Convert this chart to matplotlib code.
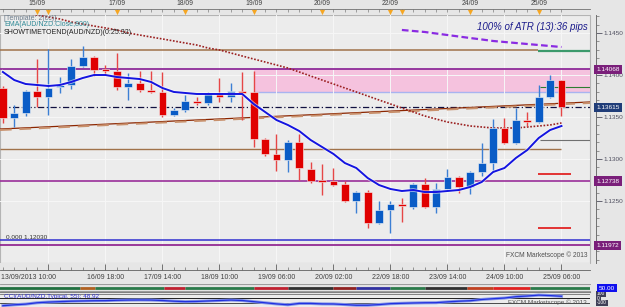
import numpy as np
import matplotlib
matplotlib.use("Agg")
import matplotlib.pyplot as plt
import matplotlib.transforms as mtransforms
from matplotlib.ticker import MultipleLocator

plt.rcParams['font.family'] = ['Liberation Sans', 'DejaVu Sans']

#_______ velas de 4 horas AUD/NZD, 13/09 al 25/09/2013 _______
apertura = [1.13845, 1.13488, 1.13548, 1.13810, 1.13738, 1.13857, 1.13881, 1.14107, 1.14214, 1.14071,
            1.14048, 1.13857, 1.13905, 1.13821, 1.13798, 1.13524, 1.13583, 1.13690, 1.13667, 1.13786,
            1.13738, 1.13810, 1.13798, 1.13238, 1.13060, 1.12988, 1.13202, 1.12881, 1.12750, 1.12738,
            1.12702, 1.12500, 1.12607, 1.12238, 1.12393, 1.12464, 1.12429, 1.12702, 1.12429, 1.12643,
            1.12786, 1.12667, 1.12845, 1.12952, 1.13369, 1.13190, 1.13464, 1.13440, 1.13738, 1.13940]
maximo = [1.13869, 1.13643, 1.13821, 1.14190, 1.14310, 1.13976, 1.14190, 1.14345, 1.14226, 1.14119,
          1.14262, 1.14024, 1.14048, 1.14048, 1.14036, 1.13607, 1.13762, 1.13738, 1.13798, 1.13964,
          1.13905, 1.14036, 1.14048, 1.13250, 1.13298, 1.13226, 1.13298, 1.12964, 1.12940, 1.12893,
          1.12738, 1.12619, 1.12631, 1.12500, 1.12500, 1.12536, 1.12714, 1.12774, 1.12714, 1.12881,
          1.12798, 1.12857, 1.13190, 1.13476, 1.13488, 1.13607, 1.13560, 1.13881, 1.14000, 1.13940]
minimo = [1.13429, 1.13381, 1.13512, 1.13619, 1.13524, 1.13786, 1.13833, 1.14095, 1.13988, 1.14000,
          1.13821, 1.13702, 1.13798, 1.13786, 1.13500, 1.13512, 1.13560, 1.13643, 1.13643, 1.13679,
          1.13679, 1.13464, 1.13143, 1.13036, 1.12857, 1.12845, 1.12750, 1.12714, 1.12571, 1.12679,
          1.12488, 1.12357, 1.12179, 1.12226, 1.12119, 1.12250, 1.12405, 1.12417, 1.12357, 1.12631,
          1.12595, 1.12583, 1.12798, 1.12845, 1.13179, 1.13179, 1.13393, 1.13429, 1.13726, 1.13512]
cierre = [1.13488, 1.13548, 1.13810, 1.13738, 1.13845, 1.13881, 1.14107, 1.14214, 1.14060, 1.14048,
          1.13857, 1.13905, 1.13821, 1.13798, 1.13524, 1.13583, 1.13690, 1.13667, 1.13786, 1.13738,
          1.13810, 1.13786, 1.13238, 1.13060, 1.12988, 1.13202, 1.12893, 1.12738, 1.12726, 1.12690,
          1.12500, 1.12607, 1.12238, 1.12393, 1.12464, 1.12440, 1.12702, 1.12429, 1.12643, 1.12786,
          1.12667, 1.12845, 1.12952, 1.13369, 1.13190, 1.13464, 1.13440, 1.13738, 1.13940, 1.13615]

# medias moviles
ema_azul = [1.14036, 1.13940, 1.13893, 1.13881, 1.13869, 1.13881, 1.13917, 1.13964, 1.14000, 1.14000,
            1.13976, 1.13964, 1.13952, 1.13917, 1.13845, 1.13798, 1.13786, 1.13774, 1.13774, 1.13774,
            1.13774, 1.13774, 1.13655, 1.13560, 1.13464, 1.13405, 1.13333, 1.13226, 1.13143, 1.13060,
            1.12952, 1.12893, 1.12774, 1.12690, 1.12643, 1.12619, 1.12631, 1.12607, 1.12607, 1.12619,
            1.12631, 1.12667, 1.12726, 1.12845, 1.12893, 1.13012, 1.13107, 1.13250, 1.13345, 1.13393]
ema_800 = [1.14798, 1.14774, 1.14738, 1.14714, 1.14690, 1.14667, 1.14631, 1.14607, 1.14583, 1.14560,
           1.14536, 1.14500, 1.14476, 1.14452, 1.14429, 1.14405, 1.14381, 1.14357, 1.14321, 1.14298,
           1.14262, 1.14226, 1.14190, 1.14155, 1.14119, 1.14083, 1.14036, 1.13988, 1.13940, 1.13893,
           1.13845, 1.13798, 1.13750, 1.13702, 1.13655, 1.13607, 1.13560, 1.13512, 1.13476, 1.13440,
           1.13417, 1.13393, 1.13381, 1.13369, 1.13369, 1.13369, 1.13381, 1.13393, 1.13405, 1.13429]
ema_morada_desde = 35
ema_morada = [1.14536, 1.14524, 1.14512, 1.14494, 1.14476, 1.14458, 1.14440, 1.14423,
              1.14405, 1.14393, 1.14381, 1.14369, 1.14357, 1.14345, 1.14333]

cci = [-160, -140, -125, -95, -80, -70, -60, -55, -50, -48,
       -40, -35, -33, -35, -45, -60, -70, -65, -55, -45,
       -35, -45, -70, -95, -120, -140, -110, -110, -120, -122,
       -135, -150, -150, -135, -115, -107, -100, -95, -93, -75,
       -60, -50, -22, -5, 10, 40, 55, 75, 65, 49]

# niveles horizontales
nivel_marron = 1.14298
nivel_verde = 1.14286
zona_sup = 1.14068
zona_inf = 1.13798
zona_desde = 22
nivel_verde2 = 1.13857
nivel_actual = 1.13615
tendencia_x = [-0.25, 51.5]
tendencia_y = [1.13357, 1.13679]
nivel_gris = 1.13226
nivel_marron2 = 1.13119
nivel_rojo = [1.12821, 1.12179]
nivel_morado = 1.12738
nivel_azul = 1.12030
nivel_morado2 = 1.11972

etiquetas = [1.14068, 1.13615, 1.12738, 1.11972]
etiquetas_col = ['#7a1f7a', '#1f3c78', '#7a1f7a', '#7a1f7a']

dias_idx = [3, 4, 10, 16, 22, 28, 34, 35, 41, 47]
dias_txt = ['15/09', '', '17/09', '18/09', '19/09', '20/09', '22/09', '', '24/09', '25/09']
fechas_idx = [9, 14, 19, 24, 29, 34, 39, 44, 49]
fechas_txt = ['16/09 18:00', '17/09 14:00', '18/09 10:00', '19/09 06:00', '20/09 02:00',
              '22/09 18:00', '23/09 14:00', '24/09 10:00', '25/09 06:00']

# tira de tendencia (inicio, fin, color)
tira_ini = [-0.5, 6.8, 8.1, 14.1, 16, 22, 25, 29, 31, 34, 37, 40.7, 43, 46.2]
tira_fin = [6.8, 8.1, 14.1, 16, 22, 25, 29, 31, 34, 37, 40.7, 43, 46.2, 51.5]
tira_col = ['#1f6f3f', '#b06020', '#2a7a4a', '#c02030', '#2a7a4a', '#c02030', '#303030',
            '#902020', '#3030a0', '#2a7a4a', '#303030', '#c04020', '#e02020', '#2a7a4a']

W, H = 625, 307
FONDO = '#e6e6e6'

def caja(x0, y0, x1, y1):
    return [x0 / W, 1 - y1 / H, (x1 - x0) / W, (y1 - y0) / H]

fig = plt.figure(figsize=(6.25, 3.07), dpi=100, facecolor=FONDO)
xlim = (-0.25, 51.5)

#_________________ grafico principal _________________
ax = fig.add_axes(caja(0, 15, 590, 263))
ax.set_facecolor('#ececec')
ax.set_xlim(xlim)
ax.set_ylim(1.117619, 1.147143)
ax.patch.set_edgecolor('#b4b4b4')
ax.patch.set_linewidth(0.8)
for s in ['top', 'bottom', 'left']:
    ax.spines[s].set_visible(False)
ax.spines['right'].set_position(('outward', 4))
ax.spines['right'].set_color('#707070')
ax.spines['right'].set_linewidth(0.7)

ax.yaxis.tick_right()
ax.set_yticks([1.1250, 1.1300, 1.1350, 1.1400, 1.1450])
ax.set_yticklabels(['%.4f' % v for v in [1.1250, 1.1300, 1.1350, 1.1400, 1.1450]])
ax.yaxis.set_minor_locator(MultipleLocator(0.001))
ax.tick_params(axis='y', which='major', length=4, width=0.6, labelsize=4.6, colors='#505060', pad=2)
ax.tick_params(axis='y', which='minor', length=2, width=0.5, colors='#707070')
ax.set_xticks(range(4, 50, 5))
ax.tick_params(axis='x', length=0, labelbottom=False)
ax.grid(True, which='major', color='#f7f7f7', lw=0.7, zorder=0)

x = np.arange(len(apertura))
o = np.array(apertura)
c = np.array(cierre)
sube = c >= o

# zona rosa y niveles
ax.fill_between([zona_desde, xlim[1]], zona_inf, zona_sup, color='#f5c2de', lw=0, zorder=1)
ax.hlines(zona_inf, zona_desde, xlim[1], color='#a8b4f0', lw=1, zorder=1.5)
ax.axhline(zona_sup, color='#8e2c9a', lw=1.3, zorder=2)
ax.hlines(nivel_marron, xlim[0], 46.9, color='#a0724a', lw=1.1, zorder=2)
ax.hlines(nivel_verde, 46.9, xlim[1], color='#3c9a6c', lw=1.6, zorder=2)
ax.hlines(nivel_verde2, 47.1, xlim[1], color='#2e7d32', lw=0.8, zorder=2)
ax.axhline(nivel_actual, color='#101040', lw=0.9, ls=(0, (5, 2, 1, 2)), zorder=2)
ax.plot(tendencia_x, tendencia_y, color='#8b2500', lw=0.9, zorder=2)
ax.plot(tendencia_x, np.array(tendencia_y) - 0.00012, color='#c8906c', lw=1.4,
        ls=(0, (6, 4)), zorder=2)
ax.hlines(nivel_gris, 47.1, xlim[1], color='#707070', lw=0.8, zorder=2)
ax.hlines(nivel_marron2, xlim[0], 49, color='#a0724a', lw=1, zorder=2)
ax.hlines(nivel_rojo, 46.9, 49.8, color='#e00000', lw=1.1, zorder=2)
ax.axhline(nivel_morado, color='#9a2f9a', lw=1.2, zorder=2)
ax.axhline(nivel_azul, color='#3030d0', lw=1.1, zorder=2)
ax.axhline(nivel_morado2, color='#8b1a8b', lw=1.2, zorder=2)
ax.text(0.3, nivel_azul + 0.0001, '0.000 1.12030', fontsize=4.6, color='#303030', va='bottom', zorder=6)

# medias
ax.plot(x, ema_800, color='#9b2020', lw=1.2, ls=(0, (1, 1)), zorder=3)
ax.plot(np.arange(ema_morada_desde, ema_morada_desde + len(ema_morada)), ema_morada,
        color='#8a2be2', lw=1.6, ls=(0, (3, 1.5)), zorder=3)
ax.plot(x, ema_azul, color='white', lw=2.6, alpha=0.6, zorder=6)
ax.plot(x, ema_azul, color='#1414e0', lw=1.4, zorder=6)

# velas
col_cuerpo = np.where(sube, '#0a5cc6', '#e00000')
col_mecha = np.where(sube, '#3c7fd4', '#e64646')
ax.vlines(x, minimo, maximo, colors=col_mecha, lw=1, zorder=4)
ax.bar(x, np.maximum(np.abs(c - o), 0.00013), bottom=np.minimum(o, c), width=0.68,
       color=col_cuerpo, edgecolor='#f6f6f6', linewidth=0.4, zorder=5)

# etiquetas de precio a la derecha
tr = mtransforms.blended_transform_factory(ax.transAxes, ax.transData)
for p, col in zip(etiquetas, etiquetas_col):
    ax.text(1.011, p, '%.5f' % p, transform=tr, fontsize=4.6, color='white', va='center',
            ha='left', clip_on=False, zorder=10,
            bbox=dict(boxstyle='square,pad=0.35', fc=col, ec='none'))

fig.text(4 / W, 1 - 18 / H, '[Template: 2(cc)]', fontsize=5, color='#6a7a8a', va='center')
fig.text(4 / W, 1 - 25 / H, 'EMA(AUD/NZD.Close,800)', fontsize=5, color='#2f8a96', va='center')
fig.text(4 / W, 1 - 32 / H, 'SHOWTIMETOEND(AUD/NZD)(0:25:32)', fontsize=5, color='#202020', va='center')
fig.text(588 / W, 1 - 27 / H, '100% of ATR (13):36 pips', fontsize=7, style='italic',
         color='#1c1c8c', ha='right', va='center')
fig.text(588 / W, 1 - 255 / H, 'FXCM Marketscope \u00a9 2013', fontsize=4.8, color='#505050',
         ha='right', va='center')

#_________________ fechas arriba _________________
ax_top = fig.add_axes(caja(0, 0, 590, 15))
ax_top.set_facecolor(FONDO)
ax_top.set_xlim(xlim)
ax_top.set_ylim(0, 1)
for s in ['top', 'left', 'right']:
    ax_top.spines[s].set_visible(False)
ax_top.spines['bottom'].set_position(('axes', 0.37))
ax_top.spines['bottom'].set_color('#707070')
ax_top.spines['bottom'].set_linewidth(0.6)
ax_top.set_xticks(dias_idx)
ax_top.set_xticks(range(50), minor=True)
ax_top.tick_params(axis='x', which='major', direction='out', length=3, width=0.6,
                   colors='#707070', labelbottom=False)
ax_top.tick_params(axis='x', which='minor', direction='out', length=2, width=0.5, colors='#808080')
ax_top.set_yticks([])
for i, t in zip(dias_idx, dias_txt):
    ax_top.text(i, 0.78, t, ha='center', va='center', fontsize=4.9, color='#404040')
ax_top.scatter(dias_idx, [0.22] * len(dias_idx), marker='v', s=14, color='#f5a623',
               zorder=3, clip_on=False, linewidths=0)

#_________________ fechas abajo _________________
ax_bot = fig.add_axes(caja(0, 263, 590, 283))
ax_bot.set_facecolor(FONDO)
ax_bot.set_xlim(xlim)
ax_bot.set_ylim(0, 1)
for s in ['top', 'left', 'right']:
    ax_bot.spines[s].set_visible(False)
ax_bot.spines['bottom'].set_position(('axes', 0.65))
ax_bot.spines['bottom'].set_color('#606060')
ax_bot.spines['bottom'].set_linewidth(0.6)
ax_bot.set_xticks(range(4, 50, 5))
ax_bot.set_xticklabels([''] + fechas_txt)
ax_bot.set_xticks(range(50), minor=True)
ax_bot.tick_params(axis='x', which='major', direction='in', length=4, width=0.6,
                   colors='#606060', labelsize=5, labelcolor='#404040', pad=3)
ax_bot.tick_params(axis='x', which='minor', direction='in', length=2, width=0.5, colors='#707070')
ax_bot.set_yticks([])
ax_bot.text(0.002, 0.27, '13/09/2013 10:00', transform=ax_bot.transAxes, fontsize=5,
            color='#404040', ha='left', va='center')

#_________________ tira de tendencia _________________
ax_tira = fig.add_axes(caja(0, 284, 590, 291))
ax_tira.set_facecolor('#e2e2e2')
ax_tira.set_xlim(xlim)
ax_tira.set_ylim(0, 1)
ax_tira.set_xticks([])
ax_tira.set_yticks([])
for s in ['left', 'right']:
    ax_tira.spines[s].set_visible(False)
for s in ['top', 'bottom']:
    ax_tira.spines[s].set_color('#909090')
    ax_tira.spines[s].set_linewidth(0.6)
ax_tira.hlines([0.5] * len(tira_ini), tira_ini, tira_fin, colors=tira_col, lw=2)
fig.text(599 / W, 1 - 288 / H, '50.00', fontsize=4.6, color='white', va='center', ha='left',
         bbox=dict(boxstyle='square,pad=0.3', fc='#1010ee', ec='none'))

#_________________ CCI _________________
ax_cci = fig.add_axes(caja(0, 292, 590, 307))
ax_cci.set_facecolor('#ececec')
ax_cci.set_xlim(xlim)
ax_cci.set_ylim(-189, 144)
ax_cci.set_xticks([])
ax_cci.set_yticks([])
for s in ['left', 'right', 'bottom']:
    ax_cci.spines[s].set_visible(False)
ax_cci.spines['top'].set_color('#808080')
ax_cci.axhline(100, color='#707070', lw=0.6)
ax_cci.axhline(0, color='#202020', lw=0.7)
ax_cci.axhline(-100, color='#303030', lw=0.6)
ax_cci.plot(x, cci, color='#8898e8', lw=2.2, zorder=2)
ax_cci.plot(x, cci, color='#2030e0', lw=0.9, zorder=3)
ax_cci.text(0.006, 0.72, 'CCI(AUD/NZD.Typical, 55): 48.92', transform=ax_cci.transAxes,
            fontsize=4.6, color='#3030d0', va='center')
ax_cci.text(0.995, 0.3, 'FXCM Marketscope \u00a9 2013', transform=ax_cci.transAxes,
            fontsize=4.6, color='#505050', va='center', ha='right')
for v, t in zip([100, 0, -100], ['100', '0', '-100']):
    ax_cci.text(1.012, v, t, transform=mtransforms.blended_transform_factory(ax_cci.transAxes, ax_cci.transData),
                fontsize=3.5, color='white', va='center', ha='left', clip_on=False,
                bbox=dict(boxstyle='square,pad=0.2', fc='#404058', ec='none'))

fig.savefig('out.png', dpi=100, facecolor=fig.get_facecolor())
